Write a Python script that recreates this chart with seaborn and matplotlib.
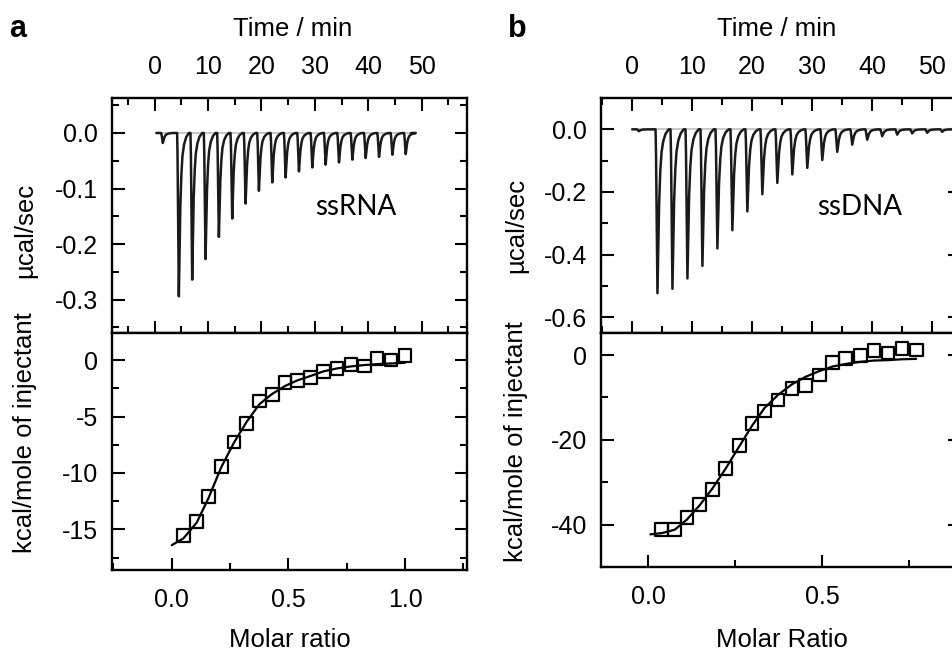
import matplotlib
matplotlib.use("Agg")
import matplotlib.pyplot as plt
from matplotlib.ticker import MultipleLocator, FormatStrFormatter
import seaborn as sns

# ---- panel a: ssRNA ----
rna_inj_time = [1.2, 4.2, 6.7, 9.2, 11.7, 14.2, 16.7, 19.2, 21.7, 24.2,
                 26.7, 29.2, 31.7, 34.2, 36.7, 39.2, 41.7, 44.2, 46.7]
rna_peak = [-0.018, -0.294, -0.264, -0.227, -0.187, -0.154, -0.127, -0.104,
            -0.089, -0.080, -0.069, -0.062, -0.057, -0.053, -0.048, -0.045,
            -0.043, -0.039, -0.038]
rna_ratio = [0.050, 0.107, 0.158, 0.212, 0.267, 0.320, 0.376, 0.430, 0.485,
             0.538, 0.596, 0.650, 0.708, 0.768, 0.825, 0.879, 0.939, 0.999]
rna_heat = [-15.56, -14.29, -12.07, -9.40, -7.26, -5.63, -3.62, -3.08, -2.02,
            -1.78, -1.54, -1.01, -0.74, -0.39, -0.53, 0.15, 0.0, 0.44]
rna_fit_x = [0.0, 0.050, 0.107, 0.158, 0.212, 0.267, 0.320, 0.376, 0.430,
             0.485, 0.538, 0.596, 0.650, 0.708, 0.768, 0.825, 0.879, 0.939, 0.999]
rna_fit_y = [-16.4, -15.8, -14.4, -12.2, -9.5, -7.3, -5.5, -3.9, -3.0,
             -2.3, -1.8, -1.4, -1.0, -0.74, -0.56, -0.44, -0.36, -0.30, -0.24]

# ---- panel b: ssDNA ----
dna_inj_time = [0.8, 3.9, 6.4, 8.9, 11.4, 13.9, 16.4, 18.9, 21.4, 23.9, 26.4,
                28.9, 31.4, 33.9, 36.4, 38.9, 41.4, 43.9, 46.4, 48.9, 51.4]
dna_peak = [-0.006, -0.523, -0.509, -0.476, -0.436, -0.380, -0.322, -0.262,
            -0.207, -0.171, -0.144, -0.123, -0.098, -0.072, -0.049, -0.033,
            -0.022, -0.017, -0.013, -0.011, -0.008]
dna_ratio = [0.040, 0.077, 0.112, 0.148, 0.186, 0.224, 0.262, 0.299, 0.335,
             0.374, 0.414, 0.454, 0.492, 0.531, 0.569, 0.610, 0.650, 0.690,
             0.730, 0.771]
dna_heat = [-41.2, -41.2, -38.4, -35.3, -31.8, -26.7, -21.3, -16.2, -13.2,
            -10.6, -7.8, -7.2, -4.7, -1.7, -0.8, -0.2, 1.0, 0.5, 1.6, 1.2]
dna_fit_x = [0.007, 0.040, 0.077, 0.112, 0.148, 0.186, 0.224, 0.262, 0.299,
             0.335, 0.374, 0.414, 0.454, 0.492, 0.531, 0.569, 0.610, 0.650,
             0.690, 0.730, 0.771]
dna_fit_y = [-42.3, -42.0, -41.2, -38.8, -35.5, -31.4, -26.7, -21.6, -16.7,
             -12.5, -9.4, -6.9, -5.1, -3.8, -2.7, -2.1, -1.6, -1.3, -1.2,
             -1.0, -0.9]

# profile of one injection spike (minutes after injection, fraction of peak)
spike_dt = [0, 0.08, 0.2, 0.32, 0.45, 0.6, 0.8, 1.0, 1.3, 1.7, 2.2]
spike_frac = [0, 0.15, 0.6, 1.0, 0.75, 0.45, 0.25, 0.14, 0.07, 0.025, 0]

W, H = 952, 653


def px(x0, y0, x1, y1):
    return [x0 / W, 1 - y1 / H, (x1 - x0) / W, (y1 - y0) / H]


def trace(t_start, t_end, times, peaks):
    t, y = [t_start], [0.0]
    for t0, d in zip(times, peaks):
        for dt, f in zip(spike_dt, spike_frac):
            t.append(t0 + dt)
            y.append(d * f)
    t.append(t_end)
    y.append(0.0)
    return t, y


def style(ax, top):
    for s in ax.spines.values():
        s.set_linewidth(1.7)
        s.set_color("black")
    ax.tick_params(which="both", direction="in", width=1.5, labelsize=18,
                   colors="black", left=True, right=True, bottom=True, top=top)
    ax.tick_params(which="major", length=9)
    ax.tick_params(which="minor", length=5)
    ax.set_xlabel("")
    ax.set_ylabel("")


sns.set_style("ticks")
plt.rcParams["font.family"] = ["Liberation Sans", "DejaVu Sans"]
plt.rcParams["axes.unicode_minus"] = False
plt.rcParams["text.color"] = "black"

fig = plt.figure(figsize=(W / 100, H / 100), dpi=100)

panels = [
    dict(x0=112, x1=467, yb=570, tlim=(-8, 58.5), ylim=(-0.36, 0.063), ymaj=0.1,
         t0=0.3, t1=48.0, times=rna_inj_time, peaks=rna_peak,
         ratio=rna_ratio, heat=rna_heat, fx=rna_fit_x, fy=rna_fit_y,
         rlim=(-0.256, 1.265), hlim=(-18.6, 2.4), hmaj=5,
         name="ssRNA", nx=356, letter="a", lx=18, xlab="Molar ratio", xlx=290,
         tx=293, ylx=25, uy=230, ky=433),
    dict(x0=601, x1=960, yb=567, tlim=(-5.2, 54.7), ylim=(-0.65, 0.10), ymaj=0.2,
         t0=0.0, t1=56.0, times=dna_inj_time, peaks=dna_peak,
         ratio=dna_ratio, heat=dna_heat, fx=dna_fit_x, fy=dna_fit_y,
         rlim=(-0.135, 0.897), hlim=(-50, 5.2), hmaj=20,
         name="ssDNA", nx=860, letter="b", lx=517, xlab="Molar Ratio", xlx=782,
         tx=777, ylx=516, uy=225, ky=442),
]

for p in panels:
    # raw heat flow
    ax1 = fig.add_axes(px(p["x0"], 98, p["x1"], 333))
    t, y = trace(p["t0"], p["t1"], p["times"], p["peaks"])
    ax1.hlines(0, p["t0"], p["t1"], color="#c4c4c4", lw=1.3)
    sns.lineplot(x=t, y=y, sort=False, estimator=None, color="#1a1a1a",
                 lw=1.8, ax=ax1)
    ax1.set_xlim(*p["tlim"])
    ax1.set_ylim(*p["ylim"])
    ax1.xaxis.set_major_locator(MultipleLocator(10))
    ax1.xaxis.set_minor_locator(MultipleLocator(5))
    ax1.yaxis.set_major_locator(MultipleLocator(p["ymaj"]))
    ax1.yaxis.set_minor_locator(MultipleLocator(p["ymaj"] / 2))
    ax1.yaxis.set_major_formatter(FormatStrFormatter("%.1f"))
    style(ax1, True)
    ax1.tick_params(axis="x", labeltop=True, labelbottom=False, pad=14)
    ax1.tick_params(axis="y", pad=10)
    ax1.text(p["nx"] / W, 1 - 207 / H, p["name"], transform=fig.transFigure,
             ha="center", va="center", fontsize=20, family=["Lato", "DejaVu Sans"])

    # integrated heats
    ax2 = fig.add_axes(px(p["x0"], 333, p["x1"], p["yb"]))
    sns.lineplot(x=p["fx"], y=p["fy"], sort=False, estimator=None,
                 color="black", lw=1.6, ax=ax2)
    sns.scatterplot(x=p["ratio"], y=p["heat"], marker="s", s=85,
                    facecolor="none", edgecolor="black", linewidth=1.6,
                    zorder=3, ax=ax2)
    ax2.set_xlim(*p["rlim"])
    ax2.set_ylim(*p["hlim"])
    ax2.xaxis.set_major_locator(MultipleLocator(0.5))
    ax2.xaxis.set_minor_locator(MultipleLocator(0.25))
    ax2.xaxis.set_major_formatter(FormatStrFormatter("%.1f"))
    ax2.yaxis.set_major_locator(MultipleLocator(p["hmaj"]))
    ax2.yaxis.set_minor_locator(MultipleLocator(p["hmaj"] / 2))
    ax2.yaxis.set_major_formatter(FormatStrFormatter("%d"))
    style(ax2, False)
    ax2.tick_params(axis="x", pad=13)
    ax2.tick_params(axis="y", pad=10)

    # labels
    fig.text(p["lx"] / W, 1 - 29 / H, p["letter"], fontsize=22,
             fontweight="bold", ha="center", va="center")
    fig.text(p["tx"] / W, 1 - 29 / H, "Time / min", fontsize=18.5,
             ha="center", va="center")
    fig.text(p["xlx"] / W, 1 - 640 / H, p["xlab"], fontsize=18.5,
             ha="center", va="center")
    fig.text(p["ylx"] / W, 1 - p["uy"] / H, "µcal/sec", fontsize=18.5,
             rotation=90, ha="center", va="center")
    fig.text(p["ylx"] / W, 1 - p["ky"] / H, "kcal/mole of injectant",
             fontsize=18.5, rotation=90, ha="center", va="center")

fig.savefig("out.png", dpi=100)
